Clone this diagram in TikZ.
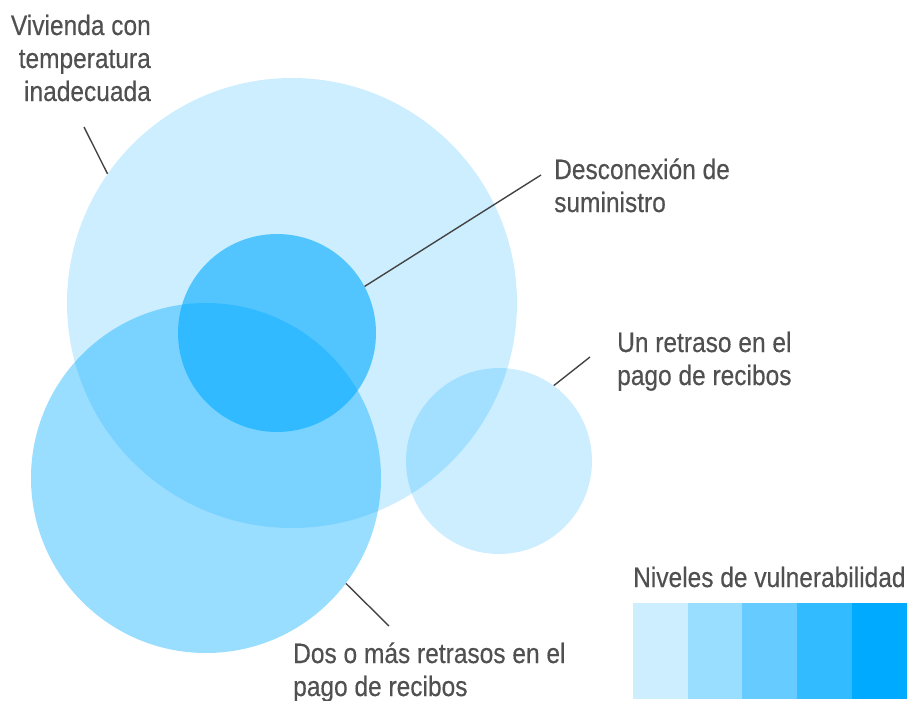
\documentclass[tikz,border=0pt]{standalone}
\usepackage{fontspec}
\setmainfont{Liberation Sans}[FakeStretch=0.875,FakeBold=0.35]
\definecolor{vblue}{HTML}{00AAFF}
\definecolor{txt}{HTML}{505050}
\definecolor{lead}{HTML}{444444}
\begin{document}
\begin{tikzpicture}[x=1pt,y=-1pt,
  blob/.style={circle,inner sep=0pt,fill=vblue,fill opacity=#1},
  lbl/.style={inner sep=0pt,text=txt,font=\fontsize{28}{33}\selectfont,anchor=base west},
  leader/.style={draw=lead,line width=1.4pt},
  swatch/.style={inner sep=0pt,minimum width=54.2pt,minimum height=95pt,anchor=north west,fill=#1,draw=#1,line width=0.5pt}]
\useasboundingbox (0,0) rectangle (908,701);
% circles
\node[blob=0.2,minimum size=450pt] (big) at (292,303) {};
\node[blob=0.2,minimum size=186pt] (ret) at (499,461) {};
\node[blob=0.4,minimum size=350pt] (dos) at (206,478) {};
\node[blob=0.6,minimum size=198pt] (desc) at (277,333) {};
% labels
\node[lbl,anchor=base east] (viv1) at (151,35) {Vivienda con};
\node[lbl,anchor=base east] (viv2) at (151,68) {temperatura};
\node[lbl,anchor=base east] (viv3) at (151,101) {inadecuada};
\node[lbl] (des1) at (554,179) {Desconexión de};
\node[lbl] (des2) at (554,212) {suministro};
\node[lbl] (ret1) at (617,352) {Un retraso en el};
\node[lbl] (ret2) at (617,385) {pago de recibos};
\node[lbl] (dos1) at (293,663) {Dos o más retrasos en el};
\node[lbl] (dos2) at (293,696) {pago de recibos};
\node[lbl] (niv) at (633,587) {Niveles de vulnerabilidad};
% leader lines
\coordinate (vivend) at (84,127);
\coordinate (desend) at (541,175);
\coordinate (retend) at (590,357);
\coordinate (dosend) at (389,626);
\draw[leader] (vivend) -- (big.145);
\draw[leader] (desend) -- (desc.28);
\draw[leader] (retend) -- (ret.54);
\draw[leader] (dosend) -- (dos.-37);
% legend
\node[swatch=vblue!20] (l1) at (633,603) {};
\node[swatch=vblue!40] (l2) at (l1.north east) {};
\node[swatch=vblue!60] (l3) at (l2.north east) {};
\node[swatch=vblue!80] (l4) at (l3.north east) {};
\node[swatch=vblue] (l5) at (l4.north east) {};
\end{tikzpicture}
\end{document}
